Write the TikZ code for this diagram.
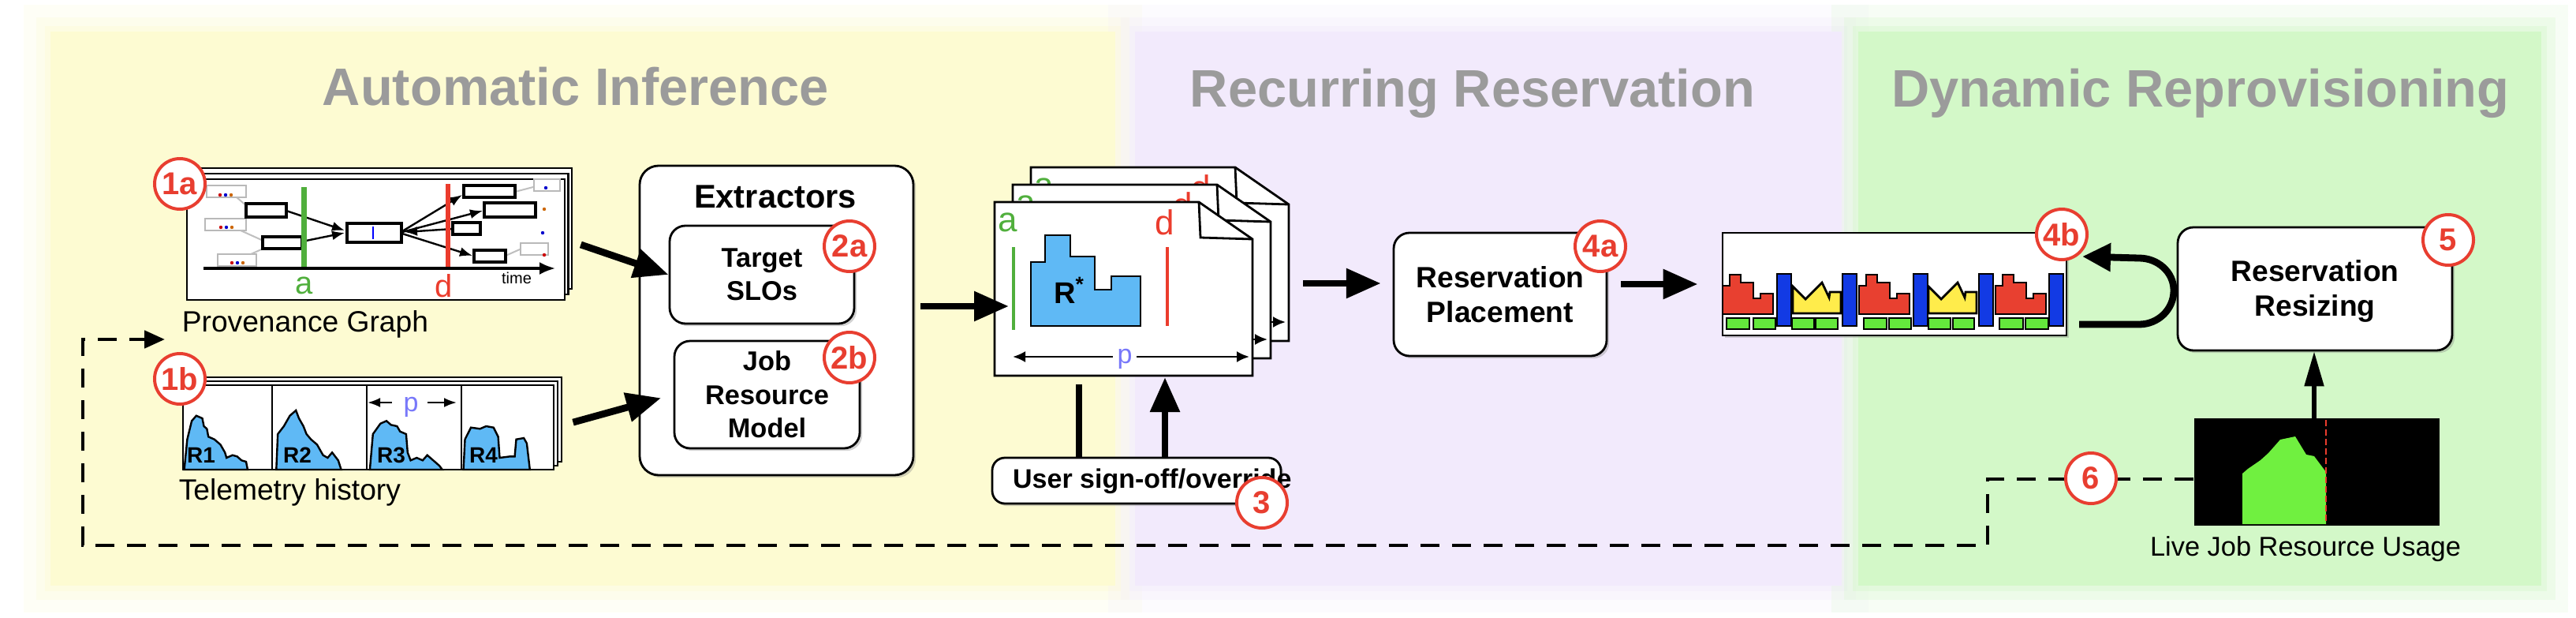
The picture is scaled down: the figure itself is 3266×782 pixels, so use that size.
\documentclass[tikz,border=0pt]{standalone}
\usepackage{fontspec}
\setmainfont{Liberation Sans}
\usetikzlibrary{arrows.meta,shadows,fit,calc}
\definecolor{ybg}{RGB}{253,251,210}
\definecolor{pbg}{RGB}{242,234,252}
\definecolor{gbg}{RGB}{211,248,200}
\definecolor{titlegray}{RGB}{155,155,155}
\definecolor{numred}{RGB}{232,62,48}
\definecolor{skyb}{RGB}{95,185,245}
\definecolor{blkred}{RGB}{232,64,48}
\definecolor{blkyel}{RGB}{255,236,75}
\definecolor{blkgrn}{RGB}{100,232,60}
\definecolor{blkblue}{RGB}{18,58,228}
\definecolor{agreen}{RGB}{80,175,60}
\definecolor{dred}{RGB}{235,60,45}
\definecolor{pblue}{RGB}{120,120,250}
\definecolor{livegrn}{RGB}{112,240,64}
\newcommand\docpage{%
  \filldraw[page] (1261,256) -- (1520,256) -- (1588,303) -- (1588,476) -- (1261,476) -- cycle;
  \draw[line width=0.7pt] (1520,256) -- (1522,301) -- (1588,303);
  \node[text=agreen, font=\fontsize{11}{11}\selectfont, inner sep=0pt] at (1278,282) {a};
  \node[text=dred, font=\fontsize{11}{11}\selectfont, inner sep=0pt] at (1477,282) {d};
  \draw[agreen, line width=1.2pt] (1285,313) -- (1285,418);
  \draw[dred, line width=1.2pt] (1480,313) -- (1480,413);
  \filldraw[fill=skyb, draw=black, line width=0.6pt] (1307,413) -- (1307,332) -- (1325,332) -- (1325,298) -- (1357,298) -- (1357,325) -- (1388,325) -- (1388,367) -- (1409,367) -- (1409,350) -- (1446,350) -- (1446,413) -- cycle;
  \draw[line width=0.6pt, {Latex[length=4pt,width=3.5pt]}-{Latex[length=4pt,width=3.5pt]}] (1284,452) -- (1584,452);
}
\newcommand\haloregion[5]{%
  \fill[#1, opacity=0.18] (#2-34,#3-34) rectangle (#4+34,#5+34);
  \fill[#1, opacity=0.25] (#2-18,#3-18) rectangle (#4+18,#5+18);
  \fill[#1, opacity=0.35] (#2-7,#3-7) rectangle (#4+7,#5+7);
}
\begin{document}
\begin{tikzpicture}[x=0.25pt,y=-0.25pt,
  title/.style={text=titlegray, font=\bfseries\fontsize{16.7}{20}\selectfont, anchor=base, inner sep=0pt},
  box/.style={draw=black, line width=0.7pt, fill=white, rounded corners=5pt, inner sep=0pt,
    drop shadow={shadow xshift=0.8pt, shadow yshift=-0.8pt, opacity=0.35}},
  boxtext/.style={font=\bfseries\fontsize{9.3}{11}\selectfont, align=center},
  smalltext/.style={font=\bfseries\fontsize{8.6}{10.6}\selectfont, align=center},
  lbl/.style={font=\fontsize{9.3}{11}\selectfont, inner sep=0pt},
  num/.style={circle, draw=numred, line width=1pt, fill=white, minimum size=16pt, inner sep=0pt,
    text=numred, font=\bfseries\fontsize{10}{10}\selectfont},
  bigarrow/.style={line width=2.2pt, -{Triangle[length=11pt,width=9pt]}},
  page/.style={draw=black, line width=0.7pt, fill=white},
  gbox/.style={draw=gray!55, line width=0.5pt, fill=white},
  bbox/.style={draw=black, line width=0.8pt, fill=white},
  garr/.style={line width=0.6pt, -{Latex[length=4pt,width=3pt]}},
  dashline/.style={line width=1.2pt, dash pattern=on 6pt off 4pt}
]
\useasboundingbox (0,0) rectangle (3266,782);
\fill[white] (0,0) rectangle (3266,782);
% region backgrounds with soft halo
\haloregion{ybg}{64}{40}{1414}{742}
\haloregion{pbg}{1439}{40}{2335}{742}
\haloregion{gbg}{2356}{40}{3222}{742}
\fill[ybg] (64,40) rectangle (1414,742);
\fill[pbg] (1439,40) rectangle (2335,742);
\fill[gbg] (2356,40) rectangle (3222,742);
% titles
\node[title] (tA) at (730,133) {Automatic Inference};
\node[title] (tR) at (1867,135) {Recurring Reservation};
\node[title] (tD) at (2790,135) {Dynamic Reprovisioning};

% ---------- provenance graph stack ----------
\filldraw[page] (246,213) rectangle (725,366);
\filldraw[page] (241.5,220) rectangle (720.5,373);
\node[page, fit={(237,227) (716,380)}, inner sep=0pt] (prov) {};
\foreach \a/\b/\c/\d in {262/235/312/250, 260/277/312/292, 276/322/325/337, 677/227/710/242, 660/308/695/323}
  \draw[gbox] (\a,\b) rectangle (\c,\d);
\foreach \p/\q/\cl in {279/247/red, 286/247/blue, 293/247/orange, 280/288/red, 287/288/blue, 294/288/orange, 294/333/red, 301/333/blue, 308/333/orange, 692/238/blue, 690/265/orange, 688/295/blue, 690/323/red}
  \fill[\cl!80!black] (\p,\q) circle[radius=0.55pt];
\draw[gray!50, line width=0.5pt] (300,250) -- (314,262);
\draw[gray!50, line width=0.5pt] (305,292) -- (336,306);
\draw[gray!50, line width=0.5pt] (318,322) -- (338,313);
\draw[gray!50, line width=0.5pt] (653,243) -- (676,237);
\draw[gray!50, line width=0.5pt] (641,324) -- (659,316);
\foreach \a/\b/\c/\d in {312/258/363/275, 333/300/383/315, 588/235/653/250, 614/257/679/275, 574/282/609/297, 601/317/641/332}
  \draw[bbox] (\a,\b) rectangle (\c,\d);
\draw[line width=0.9pt, fill=white] (440,283) rectangle (509,307);
\draw[blue, line width=0.5pt] (473,287) -- (473,303);
\draw[garr] (363,267) -- (437,292);
\draw[garr] (383,306) -- (437,295);
\draw[garr] (510,293) -- (586,247);
\draw[garr] (510,294) -- (612,267);
\draw[garr] (510,296) -- (599,324);
\draw[garr] (574,290) -- (513,294);
\draw[line width=0.8pt, -{Latex[length=5pt,width=4pt]}] (258,340) -- (704,340);
\draw[agreen, line width=1.6pt] (385.5,237) -- (385.5,338);
\draw[dred, line width=1.6pt] (568,233) -- (568,338);
\node[text=agreen, font=\fontsize{10}{10}\selectfont] at (385.5,362) {a};
\node[text=dred, font=\fontsize{10}{10}\selectfont] at (563,362) {d};
\node[font=\fontsize{5}{5}\selectfont] at (655,352) {time};
\node[lbl, anchor=west] (provlbl) at (230,411) {Provenance Graph};
\node[num] (n1a) at (228,233) {1a};

% ---------- telemetry stack ----------
\filldraw[page] (242,478) rectangle (712,585);
\filldraw[page] (237,483) rectangle (707,590);
\node[page, fit={(232,488) (702,595)}, inner sep=0pt] (tel) {};
\begin{scope}[fill=skyb, draw=black, line width=0.6pt]
\filldraw (233.6,595) -- (237.4,556.7) -- (243.1,533.3) -- (248.9,526.7) -- (256.5,530) -- (258.5,540) -- (262.3,543.3) -- (264.2,553.3) -- (271.8,556.7) -- (279.5,563.3) -- (285.2,573.3) -- (287.2,580) -- (294.8,576.7) -- (300.6,578.3) -- (306.3,583.3) -- (312,585) -- (314,595) -- cycle;
\filldraw (350.3,595) -- (352.2,550) -- (359.9,540) -- (367.5,526.7) -- (375.2,520) -- (379,530) -- (384.7,540) -- (388.6,550) -- (394.3,556.7) -- (402,563.3) -- (409.6,576.7) -- (415.4,580) -- (421.1,573.3) -- (428.8,583.3) -- (432.6,595) -- cycle;
\filldraw (468.9,595) -- (472.8,550) -- (482.3,536.7) -- (490,533.3) -- (495.7,538.3) -- (503.4,540) -- (507.2,546.7) -- (514.9,550) -- (516.8,573.3) -- (520.6,583.3) -- (528.3,580) -- (535.9,583.3) -- (541.7,576.7) -- (549.3,583.3) -- (557,590) -- (560.8,595) -- cycle;
\filldraw (587.6,595) -- (589.5,556.7) -- (597.1,541.7) -- (608.6,543.3) -- (616.3,540) -- (625.8,541.7) -- (631.6,553.3) -- (633.5,580) -- (646.9,578.3) -- (652.6,578.3) -- (654.5,556.7) -- (664.1,555) -- (667.9,561.7) -- (671.8,595) -- cycle;
\end{scope}
\foreach \x in {345,465,585} \draw[line width=0.7pt] (\x,488) -- (\x,595);
\foreach \x/\t in {255/R1, 377/R2, 496/R3, 613/R4}
  \node[font=\bfseries\fontsize{7}{7}\selectfont] at (\x,577) {\t};
\draw[garr] (497,510) -- (466,510);
\draw[garr] (542,510) -- (579,510);
\node[text=pblue, font=\fontsize{8.5}{9}\selectfont] at (521,516) {p};
\node[lbl, anchor=west] (tellbl) at (226,624) {Telemetry history};
\node[num] (n1b) at (228,480) {1b};

% ---------- extractors ----------
\node[box, rounded corners=6pt, fit={(811,210) (1158,602)}] (ext) {};
\node[font=\bfseries\fontsize{10.4}{12}\selectfont] (extT) at (983,249) {Extractors};
\node[box, fit={(849,286) (1083,410)}] (slo) {};
\node[smalltext] at (slo.center) {Target\\SLOs};
\node[box, fit={(855,432) (1090,568)}] (job) {};
\node[smalltext] at (job.center) {Job\\Resource\\Model};
\node[num] (n2a) at (1077,312) {2a};
\node[num] (n2b) at (1077,453) {2b};
\draw[bigarrow, shorten <=5pt] (prov.east) -- (slo.west);
\draw[bigarrow, shorten <=6pt, shorten >=4pt] (tel.east) -- (job.west);

% ---------- reservation documents ----------
\begin{scope}[shift={(46,-44)}]\docpage\end{scope}
\begin{scope}[shift={(23,-22)}]\docpage\end{scope}
\docpage
\node[font=\bfseries\fontsize{9.5}{10}\selectfont] (rstar) at (1356,368) {R\textsuperscript{*}};
\node[fill=white, inner sep=1.5pt, text=pblue, font=\fontsize{8.5}{9}\selectfont] (pdoc) at (1426,455) {p};
\node[fit={(1261,256) (1588,476)}, inner sep=0pt] (doc) {};
\coordinate (docIn) at (1279,388);
\draw[bigarrow, shorten <=2pt] (ext.east |- docIn) -- (docIn);

% user sign-off
\node[box, rounded corners=4pt, fit={(1258,580) (1624,638)}] (user) {};
\node[font=\bfseries\fontsize{8.5}{10}\selectfont, anchor=west] at (1270,610) {User sign-off/override};
\node[num] (n3) at (1600,637) {3};
\coordinate (uA) at (1368,487);
\coordinate (uB) at (1477,478);
\draw[line width=2.2pt] (uA) -- (uA |- user.north);
\draw[bigarrow] (uB |- user.north) -- (uB);

% ---------- placement ----------
\node[box, fit={(1767,295) (2037,451)}] (place) {};
\node[boxtext] at (place.center) {Reservation\\Placement};
\node[num] (n4a) at (2029,312) {4a};
\coordinate (dpA) at (1652,359);
\draw[bigarrow, shorten >=3.7pt] (dpA) -- (dpA -| place.west);

% ---------- schedule (4b) ----------
\node[page, fit={(2184,295) (2620,425)}, inner sep=0pt,
  drop shadow={shadow xshift=0.8pt, shadow yshift=-0.8pt, opacity=0.35}] (mb) {};
\begin{scope}[draw=black, line width=0.7pt]
\foreach \s in {0,173,346}
  \filldraw[fill=blkred, shift={(\s,0)}] (2184,398) -- (2184,362) -- (2193,362) -- (2193,348) -- (2207,348) -- (2207,358) -- (2223,358) -- (2223,378) -- (2232,378) -- (2232,372) -- (2248,372) -- (2248,398) -- cycle;
\foreach \s in {0,172}
  \filldraw[fill=blkyel, shift={(\s,0)}] (2273,397) -- (2273,363) -- (2289,379) -- (2310,358) -- (2319,377) -- (2320,370) -- (2334,370) -- (2334,397) -- cycle;
\foreach \x in {2253,2336,2426,2509,2598}
  \filldraw[fill=blkblue] (\x,347) rectangle ++(18,66);
\foreach \a/\b in {2189/2218, 2223/2251, 2272/2300, 2302/2330, 2363/2392, 2395/2423, 2445/2473, 2476/2503, 2535/2565, 2568/2597}
  \filldraw[fill=blkgrn] (\a,403) rectangle (\b,417);
\end{scope}
\coordinate (pmA) at (2055,360);
\draw[bigarrow, shorten >=7.5pt] (pmA) -- (pmA -| mb.west);
\node[num] (n4b) at (2614,297) {4b};

% ---------- resizing ----------
\node[box, fit={(2761,288) (3109,444)}] (rsz) {};
\node[boxtext] at (2935,369) {Reservation\\Resizing};
\node[num] (n5) at (3104,304) {5};
\coordinate (lpS) at (2636,411);
\coordinate (lpE) at (2640,325);
\draw[line width=2.2pt, -{Triangle[length=9pt,width=8.5pt]}] (lpS) -- (2712,411) to[out=0,in=-90] (2756,368) to[out=90,in=0] (2712,327) -- (lpE);

% ---------- live usage ----------
\node[fill=black, fit={(2782,530) (3093,666)}, inner sep=0pt] (live) {};
\fill[livegrn] (2843,664) -- (2843,600) -- (2850,594) -- (2866,583) -- (2876,574) -- (2891,557) -- (2910,553) -- (2924,576) -- (2934,578) -- (2949,598) -- (2949,664) -- cycle;
\draw[dred, line width=0.7pt, dash pattern=on 2pt off 1pt] (2949,532) -- (2949,664);
\node[font=\fontsize{8.6}{10}\selectfont] (livelbl) at (2923,696) {Live Job Resource Usage};
\coordinate (lvA) at (2934,530);
\draw[line width=1.3pt, -{Triangle[length=11pt,width=6pt]}] (lvA) -- (lvA |- rsz.south);

% ---------- feedback dashed loop ----------
\coordinate (dl1) at (2520,607);
\coordinate (provIn) at (209,430);
\draw[dashline, -{Triangle[length=6.5pt,width=5.5pt]}] (live.west |- dl1) -- (dl1) -- (2520,691) -- (105,691) -- (105,430) -- (provIn);
\node[num] (n6) at (2651,606) {6};
\end{tikzpicture}
\end{document}
